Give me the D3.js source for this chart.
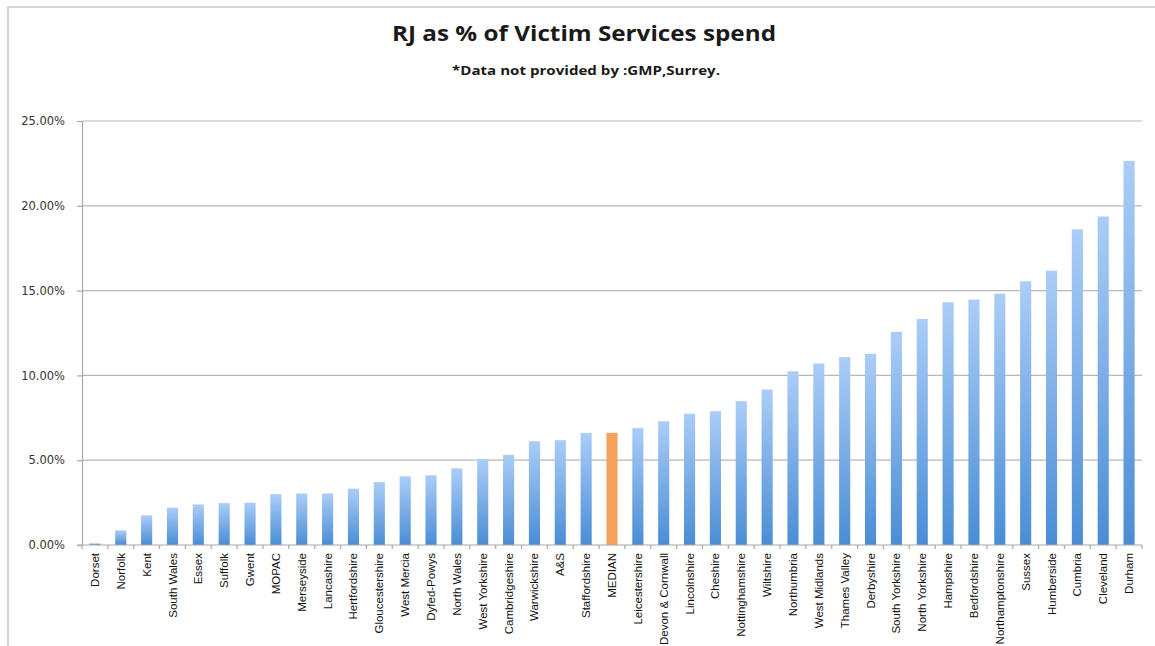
<!DOCTYPE html>
<html>
<head>
<meta charset="utf-8">
<script src="https://cdn.jsdelivr.net/npm/d3@7/dist/d3.min.js"></script>
<style>
  body { margin: 0; background: #fff; }
  svg { display: block; }
</style>
</head>
<body>
<svg id="chart" width="1155" height="646"></svg>
<script>
// Forces, sorted by RJ share of victim services spend
const forces = [
  "Dorset", "Norfolk", "Kent", "South Wales", "Essex", "Suffolk", "Gwent",
  "MOPAC", "Merseyside", "Lancashire", "Hertfordshire", "Gloucestershire",
  "West Mercia", "Dyfed-Powys", "North Wales", "West Yorkshire",
  "Cambridgeshire", "Warwickshire", "A&S", "Staffordshire", "MEDIAN",
  "Leicestershire", "Devon & Cornwall", "Lincolnshire", "Cheshire",
  "Nottinghamshire", "Wiltshire", "Northumbria", "West Midlands",
  "Thames Valley", "Derbyshire", "South Yorkshire", "North Yorkshire",
  "Hampshire", "Bedfordshire", "Northamptonshire", "Sussex", "Humberside",
  "Cumbria", "Cleveland", "Durham"
];

// RJ as fraction of victim services spend
const rjShare = [
  0.0010, 0.0086, 0.0175, 0.0220, 0.0239, 0.0247, 0.0249,
  0.0300, 0.0304, 0.0304, 0.0332, 0.0371,
  0.0405, 0.0411, 0.0452, 0.0506,
  0.0532, 0.0612, 0.0618, 0.0661, 0.0661,
  0.0689, 0.0730, 0.0774, 0.0789,
  0.0848, 0.0917, 0.1024, 0.1070,
  0.1108, 0.1127, 0.1257, 0.1333,
  0.1431, 0.1447, 0.1482, 0.1555, 0.1618,
  0.1861, 0.1937, 0.2265
];

const yTicks = [0, 0.05, 0.10, 0.15, 0.20, 0.25];

const data = forces.map((f, i) => ({ force: f, value: rjShare[i] }));

const svg = d3.select("#chart");

const defs = svg.append("defs");
const grad = defs.append("linearGradient")
  .attr("id", "barGrad")
  .attr("x1", 0).attr("y1", 0).attr("x2", 0).attr("y2", 1);
grad.append("stop").attr("offset", "0%").attr("stop-color", "#abcdf7");
grad.append("stop").attr("offset", "100%").attr("stop-color", "#4a8dd5");

// outer chart frame
svg.append("rect")
  .attr("x", 8).attr("y", 7)
  .attr("width", 1160).attr("height", 660)
  .attr("fill", "none")
  .attr("stroke", "#d4d4d4")
  .attr("stroke-width", 2);

// titles
svg.append("text")
  .attr("x", 584).attr("y", 41)
  .attr("text-anchor", "middle")
  .attr("font-family", "'Open Sans', sans-serif")
  .attr("font-weight", "bold")
  .attr("font-size", 22)
  .attr("textLength", 384)
  .attr("lengthAdjust", "spacingAndGlyphs")
  .attr("fill", "#1a1a1a")
  .text("RJ as % of Victim Services spend");

svg.append("text")
  .attr("x", 586).attr("y", 75)
  .attr("text-anchor", "middle")
  .attr("font-family", "'Open Sans', sans-serif")
  .attr("font-weight", "bold")
  .attr("font-size", 12.5)
  .attr("textLength", 268)
  .attr("lengthAdjust", "spacingAndGlyphs")
  .attr("fill", "#1a1a1a")
  .text("*Data not provided by :GMP,Surrey.");

const plotLeft = 82, plotRight = 1142, plotTop = 121, plotBottom = 545;

const x = d3.scaleBand()
  .domain(forces)
  .range([plotLeft, plotRight])
  .paddingInner(0.57)
  .paddingOuter(0.285);

const y = d3.scaleLinear()
  .domain([0, 0.25])
  .range([plotBottom, plotTop]);

// gridlines
svg.append("g")
  .selectAll("line")
  .data(yTicks.filter(t => t > 0))
  .join("line")
  .attr("x1", plotLeft).attr("x2", plotRight)
  .attr("y1", d => y(d)).attr("y2", d => y(d))
  .attr("stroke", "#b8b8b8")
  .attr("stroke-width", 1.2);

// y axis
const yAxis = svg.append("g")
  .attr("transform", `translate(${plotLeft},0)`)
  .call(d3.axisLeft(y).tickValues(yTicks).tickFormat(d3.format(".2%")).tickSize(5).tickPadding(12));
yAxis.select(".domain").attr("stroke", "#a8a8a8").attr("stroke-width", 1.2);
yAxis.selectAll(".tick line").attr("stroke", "#a8a8a8").attr("stroke-width", 1.2);
yAxis.selectAll("text")
  .attr("font-family", "'DejaVu Sans', sans-serif")
  .attr("font-size", 11.5)
  .attr("fill", "#333");

// bars
svg.append("g")
  .selectAll("rect")
  .data(data)
  .join("rect")
  .attr("x", d => x(d.force))
  .attr("width", x.bandwidth())
  .attr("y", d => y(d.value))
  .attr("height", d => plotBottom - y(d.value))
  .attr("fill", d => d.force === "MEDIAN" ? "#f5a35c" : "url(#barGrad)");

// x axis baseline with ticks between categories
const xg = svg.append("g");
xg.append("line")
  .attr("x1", plotLeft - 5).attr("x2", plotRight)
  .attr("y1", plotBottom).attr("y2", plotBottom)
  .attr("stroke", "#a8a8a8")
  .attr("stroke-width", 1.2);
const step = x.step();
xg.selectAll("line.sep")
  .data(d3.range(forces.length + 1))
  .join("line")
  .attr("class", "sep")
  .attr("x1", i => plotLeft + i * step).attr("x2", i => plotLeft + i * step)
  .attr("y1", plotBottom).attr("y2", plotBottom + 4)
  .attr("stroke", "#a8a8a8")
  .attr("stroke-width", 1.2);

// rotated category labels
const xAxis = svg.append("g")
  .attr("transform", `translate(0,${plotBottom})`)
  .call(d3.axisBottom(x).tickSize(0).tickPadding(0));
xAxis.select(".domain").remove();
xAxis.selectAll("text")
  .attr("font-family", "'Liberation Sans Narrow', 'Arial Narrow', sans-serif")
  .attr("font-size", 11.5)
  .attr("fill", "#111")
  .attr("text-anchor", "end")
  .attr("dy", "0.35em")
  .attr("transform", "translate(0,8) rotate(-90)");
</script>
</body>
</html>
